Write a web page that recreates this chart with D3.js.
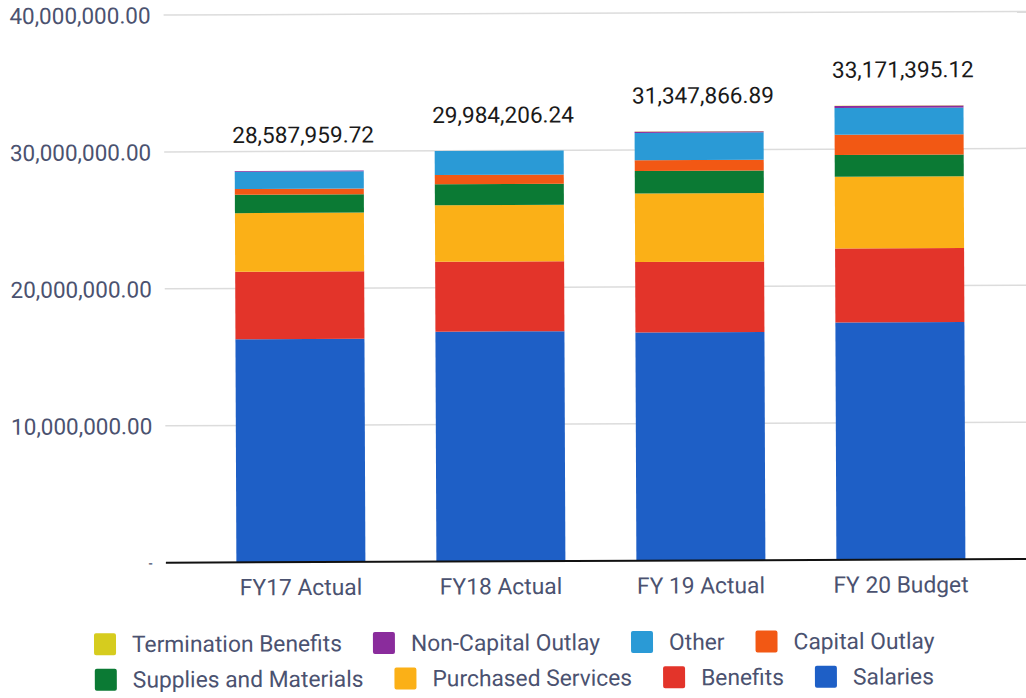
<!DOCTYPE html>
<html>
<head>
    <meta charset="utf-8">
    <title>Budget by Fiscal Year</title>
    <script src="https://d3js.org/d3.v7.min.js"></script>
    <style>
        body { margin: 0; background: #fff; }
        text { font-family: Roboto, "Noto Sans", sans-serif; }
    </style>
</head>
<body>
<script>
    // fiscal years on the x axis
    const years = ["FY17 Actual", "FY18 Actual", "FY 19 Actual", "FY 20 Budget"];

    // stack order, bottom to top
    const seriesNames = ["Salaries", "Benefits", "Purchased Services", "Supplies and Materials",
        "Capital Outlay", "Other", "Non-Capital Outlay", "Termination Benefits"];

    const salaries      = [16300000, 16790000, 16660000, 17330000];
    const benefits      = [4920000, 5110000, 5160000, 5410000];
    const purchased     = [4290000, 4120000, 5000000, 5240000];
    const supplies      = [1340000, 1530000, 1650000, 1590000];
    const capitalOutlay = [420000, 680000, 780000, 1480000];
    const other         = [1260000, 1750000, 2000000, 1950000];
    const nonCapital    = [50000, 4000, 80000, 150000];
    const termination   = [8000, 0, 18000, 20000];

    const totals = [28587959.72, 29984206.24, 31347866.89, 33171395.12];

    const yTicks = [0, 10000000, 20000000, 30000000, 40000000];

    const colors = ["#1e5fc6", "#e3342a", "#fbb017", "#0b7a34",
        "#f25814", "#2a9ad6", "#8a2c9c", "#d6cc1e"];

    // legend rows as they appear under the chart
    const legendRows = [
        ["Termination Benefits", "Non-Capital Outlay", "Other", "Capital Outlay"],
        ["Supplies and Materials", "Purchased Services", "Benefits", "Salaries"]
    ];

    const width = 1026;
    const height = 698;
    const textColor = "#4b5270";

    const seriesValues = [salaries, benefits, purchased, supplies, capitalOutlay, other, nonCapital, termination];
    const table = years.map((year, i) => {
        const row = { year: year };
        seriesNames.forEach((name, j) => { row[name] = seriesValues[j][i]; });
        return row;
    });

    const stacked = d3.stack().keys(seriesNames)(table);
    const color = d3.scaleOrdinal().domain(seriesNames).range(colors);

    const x = d3.scaleBand()
        .domain(years)
        .range([200, 1000])
        .paddingInner(0.355)
        .paddingOuter(0.1775);

    const y = d3.scaleLinear()
        .domain([0, 40000000])
        .range([561.2, 13.6]);

    const svg = d3.select("body").append("svg")
        .attr("width", width)
        .attr("height", height);

    // the scanned page sits at a slight tilt
    const chart = svg.append("g")
        .attr("transform", "rotate(-0.24, 513, 349)");

    // gridlines + y labels
    const yAxis = d3.axisLeft(y)
        .tickValues(yTicks)
        .tickSize(0)
        .tickFormat(d => d === 0 ? "-" : d3.format(",.2f")(d));

    chart.selectAll(".grid")
        .data(yTicks.filter(d => d > 0))
        .enter()
        .append("line")
        .attr("class", "grid")
        .attr("x1", 165)
        .attr("x2", 1040)
        .attr("y1", d => y(d))
        .attr("y2", d => y(d))
        .attr("stroke", "#dcdcdc")
        .attr("stroke-width", 1.5);

    const yg = chart.append("g")
        .attr("transform", "translate(152,0)")
        .call(yAxis);
    yg.select(".domain").remove();
    yg.selectAll("text")
        .attr("x", 0)
        .attr("dy", "0.35em")
        .attr("fill", textColor)
        .attr("font-size", d => d === 0 ? "12px" : "22.5px")
        .attr("font-weight", d => d === 0 ? "bold" : null);

    // bars
    chart.selectAll(".series")
        .data(stacked)
        .enter()
        .append("g")
        .attr("class", "series")
        .attr("fill", d => color(d.key))
        .selectAll("rect")
        .data(d => d)
        .enter()
        .append("rect")
        .attr("x", d => x(d.data.year))
        .attr("width", x.bandwidth())
        .attr("y", d => y(d[1]))
        .attr("height", d => y(d[0]) - y(d[1]));

    // baseline
    chart.append("line")
        .attr("x1", 165)
        .attr("x2", 1040)
        .attr("y1", y(0))
        .attr("y2", y(0))
        .attr("stroke", "#111")
        .attr("stroke-width", 2);

    // x labels
    const xAxis = d3.axisBottom(x).tickSize(0).tickPadding(0);
    const xg = chart.append("g")
        .attr("transform", `translate(0,${y(0)})`)
        .call(xAxis);
    xg.select(".domain").remove();
    xg.selectAll("text")
        .attr("y", 33)
        .attr("dy", 0)
        .attr("fill", textColor)
        .attr("font-size", "22.8px");

    // totals above the bars
    chart.selectAll(".total")
        .data(totals)
        .enter()
        .append("text")
        .attr("class", "total")
        .attr("x", (d, i) => x(years[i]) + x.bandwidth() / 2 + 4)
        .attr("y", d => y(d) - 28)
        .attr("text-anchor", "middle")
        .attr("font-size", "22.6px")
        .attr("fill", "#1a1a1a")
        .text(d => d3.format(",.2f")(d));

    // legend, each row centred
    const rowY = [642.5, 678];
    legendRows.forEach((names, r) => {
        const row = chart.append("g");
        let cursor = 0;
        names.forEach(name => {
            const item = row.append("g").attr("transform", `translate(${cursor},0)`);
            item.append("rect")
                .attr("x", 0)
                .attr("y", -11)
                .attr("width", 22)
                .attr("height", 22)
                .attr("rx", 2)
                .attr("fill", color(name));
            const t = item.append("text")
                .attr("x", 38)
                .attr("dy", "0.35em")
                .attr("font-size", "22.8px")
                .attr("fill", textColor)
                .text(name);
            cursor += 38 + t.node().getComputedTextLength() + 31;
        });
        const rowWidth = cursor - 31;
        row.attr("transform", `translate(${513 - rowWidth / 2},${rowY[r]})`);
    });
</script>
</body>
</html>
